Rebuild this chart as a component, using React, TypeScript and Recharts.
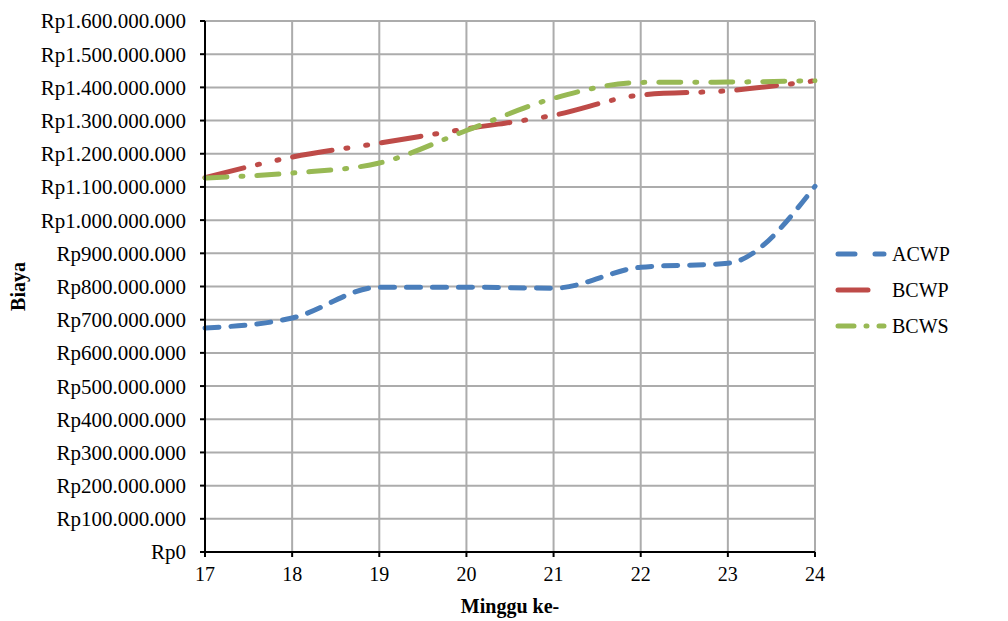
import React from "react";
import { LineChart, Line, XAxis, YAxis, CartesianGrid, Label } from "recharts";

const weeks = [17, 18, 19, 20, 21, 22, 23, 24];
const acwp = [675000000, 705000000, 798000000, 798000000, 795000000, 858000000, 870000000, 1102000000];
const bcwp = [1128000000, 1190000000, 1232000000, 1275000000, 1316000000, 1377000000, 1390000000, 1420000000];
const bcws = [1127000000, 1142000000, 1172000000, 1270000000, 1367000000, 1415000000, 1416000000, 1420000000];
const yTicks = [0, 100000000, 200000000, 300000000, 400000000, 500000000, 600000000, 700000000, 800000000, 900000000, 1000000000, 1100000000, 1200000000, 1300000000, 1400000000, 1500000000, 1600000000];

const data = weeks.map((w, i) => ({ week: w, ACWP: acwp[i], BCWP: bcwp[i], BCWS: bcws[i] }));

const FONT = "'Liberation Serif', 'Times New Roman', serif";

const fmt = (v: number) => "Rp" + v.toString().replace(/\B(?=(\d{3})+(?!\d))/g, ".");

const series = [
  { key: "ACWP", color: "#4a7ebb", dash: "14 12", legendDash: "17 20" },
  { key: "BCWP", color: "#be4b48", dash: "40 14 2 18 2 14", legendDash: "30 16 1 20" },
  { key: "BCWS", color: "#98b954", dash: "22 14 2 14", legendDash: "16 12 1 12" },
];

export default function App() {
  return (
    <div style={{ position: "absolute", left: 0, top: 0, width: 1008, height: 621, background: "#fff" }}>
      <LineChart width={1008} height={621} data={data} margin={{ top: 21, right: 193, bottom: 0, left: 0 }}>
        <CartesianGrid stroke="#acacac" strokeWidth={2} horizontal vertical />
        <XAxis
          dataKey="week"
          type="number"
          domain={[17, 24]}
          ticks={weeks}
          height={69}
          axisLine={{ stroke: "#000", strokeWidth: 2 }}
          tickLine={{ stroke: "#000", strokeWidth: 2 }}
          tickSize={5}
          tickMargin={10}
          tick={{ fill: "#000", fontFamily: FONT, fontSize: 20 }}
        >
          <Label value="Minggu ke-" position="insideBottom" offset={8} style={{ fontFamily: FONT, fontSize: 20, fontWeight: "bold", fill: "#000" }} />
        </XAxis>
        <YAxis
          type="number"
          domain={[0, 1600000000]}
          ticks={yTicks}
          width={205}
          tickFormatter={fmt}
          axisLine={{ stroke: "#000", strokeWidth: 2 }}
          tickLine={{ stroke: "#000", strokeWidth: 2 }}
          tickSize={5}
          tickMargin={14}
          tick={{ fill: "#000", fontFamily: FONT, fontSize: 21 }}
          interval={0}
        >
          <Label value="Biaya" angle={-90} position="insideLeft" offset={18} style={{ fontFamily: FONT, fontSize: 20, fontWeight: "bold", fill: "#000", textAnchor: "middle" }} />
        </YAxis>
        {series.map((s) => (
          <Line key={s.key} type="monotone" dataKey={s.key} stroke={s.color} strokeWidth={5} strokeDasharray={s.dash}
            strokeLinecap="round" dot={false} activeDot={false} isAnimationActive={false} />
        ))}
      </LineChart>
      <div style={{ position: "absolute", left: 834, top: 236, fontFamily: FONT, fontSize: 20, color: "#000" }}>
        {series.map((s) => (
          <div key={s.key} style={{ display: "flex", alignItems: "center", height: 36 }}>
            <svg width={54} height={10} style={{ marginRight: 4 }}>
              <line x1={4} y1={5} x2={50} y2={5} stroke={s.color} strokeWidth={5} strokeLinecap="round" strokeDasharray={s.legendDash} />
            </svg>
            <span>{s.key}</span>
          </div>
        ))}
      </div>
    </div>
  );
}
